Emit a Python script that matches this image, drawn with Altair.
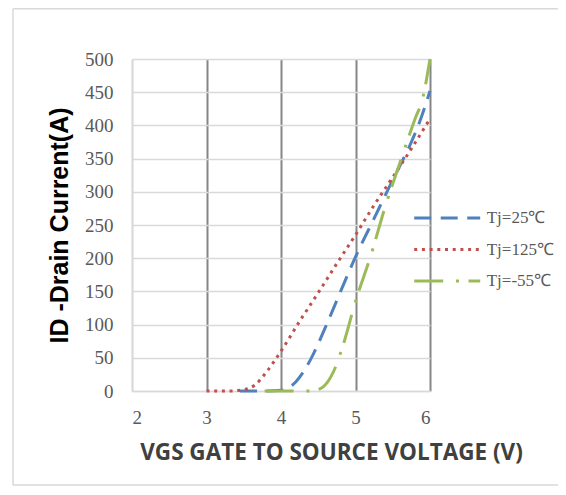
import altair as alt
import pandas as pd

series_names = ["Tj=25℃", "Tj=125℃", "Tj=-55℃"]
series_colors = ["#4f81bd", "#c0504d", "#9bbb59"]
series_dash = [[17, 9.5], [3, 4.7], [29, 12.8, 3, 9.5]]

vgs_25 = [3.45, 3.8, 4.0, 4.2, 4.4, 4.6, 4.8, 5.0, 5.25, 5.5, 5.75, 5.87, 6.0]
id_25 = [0, 0, 1, 14, 48, 97, 150, 202, 260, 318, 375, 408, 452]

vgs_125 = [3.0, 3.3, 3.5, 3.65, 3.8, 4.0, 4.25, 4.5, 4.75, 5.0, 5.25, 5.5, 5.75, 6.0]
id_125 = [0, 0, 2, 9, 28, 60, 105, 148, 192, 235, 280, 322, 365, 410]

vgs_m55 = [3.78, 4.4, 4.55, 4.7, 4.85, 5.0, 5.2, 5.4, 5.6, 5.8, 5.9, 6.0]
id_m55 = [0, 0, 5, 28, 75, 135, 202, 278, 345, 410, 440, 500]

x_ticks = [2, 3, 4, 5, 6]
y_ticks = list(range(0, 501, 50))

rows = []
for name, xs, ys in [(series_names[0], vgs_25, id_25),
                     (series_names[1], vgs_125, id_125),
                     (series_names[2], vgs_m55, id_m55)]:
    for i, (a, b) in enumerate(zip(xs, ys)):
        rows.append({"series": name, "vgs": a, "id": b, "order": i})
df = pd.DataFrame(rows)

W, H = 298, 332

x_scale = alt.Scale(domain=[2, 6], nice=False, zero=False)
y_scale = alt.Scale(domain=[0, 500], nice=False)

x_axis = alt.Axis(values=x_ticks, format="d", title="VGS GATE TO SOURCE VOLTAGE (V)",
                  grid=True,
                  gridColor=alt.condition("datum.value == 2", alt.value("#d9d9d9"), alt.value("#868686")),
                  gridWidth=2,
                  ticks=False, domainColor="#d9d9d9", domainWidth=1.5,
                  labelPadding=17, labelFont="Liberation Serif", labelFontSize=19,
                  labelColor="#595959",
                  titleFont="Open Sans", titleFontSize=22.5, titleFontWeight="bold",
                  titleColor="#404040", titleX=199, titleY=68,
                  titleAlign="center", titleBaseline="alphabetic")

y_axis = alt.Axis(values=y_ticks, format="d", title="ID -Drain Current(A)",
                  grid=True, gridColor="#d9d9d9", gridWidth=1.5,
                  ticks=False, domainColor="#d9d9d9", domainWidth=1.5,
                  labelPadding=19, labelFont="Liberation Serif", labelFontSize=19,
                  labelColor="#595959",
                  titleFont="Liberation Sans", titleFontSize=25, titleFontWeight="bold",
                  titleColor="#000000", titleAngle=270, titleX=-73, titleY=166,
                  titleAlign="center", titleBaseline="middle")

lines = alt.Chart(df).mark_line(strokeWidth=3, interpolate="monotone", clip=False).encode(
    x=alt.X("vgs:Q", scale=x_scale, axis=x_axis),
    y=alt.Y("id:Q", scale=y_scale, axis=y_axis),
    color=alt.Color("series:N",
                    scale=alt.Scale(domain=series_names, range=series_colors),
                    legend=alt.Legend(orient="none", legendX=280.7, legendY=149, title=None,
                                      symbolType="stroke", symbolSize=4356,
                                      symbolStrokeWidth=3, clipHeight=20, rowPadding=11.5,
                                      labelOffset=5, labelFont="Liberation Serif",
                                      labelFontSize=17, labelColor="#595959", labelLimit=0)),
    strokeDash=alt.StrokeDash("series:N",
                              scale=alt.Scale(domain=series_names, range=series_dash),
                              legend=None),
    order="order:Q",
)

frame = pd.DataFrame({"k": [0]})
left_edge = alt.Chart(frame).mark_rule(color="#d9d9d9", strokeWidth=1.5).encode(
    x=alt.value(-119), y=alt.value(-50.2), y2=alt.value(426)
)
top_edge = alt.Chart(frame).mark_rule(color="#d9d9d9", strokeWidth=1.5).encode(
    x=alt.value(-119), x2=alt.value(430), y=alt.value(-50.2)
)
bottom_edge = alt.Chart(frame).mark_rule(color="#d9d9d9", strokeWidth=1.5).encode(
    x=alt.value(-119), x2=alt.value(430), y=alt.value(426)
)

chart = alt.layer(left_edge, top_edge, bottom_edge, lines).properties(
    width=W, height=H,
    autosize=alt.AutoSizeParams(type="none"),
    padding={"left": 124, "top": 51, "right": 128, "bottom": 95},
).configure_view(stroke=None).configure_axis(
    labelFont="Liberation Serif", labelFontSize=19, labelColor="#595959"
)

chart.save("out.html", embed_options={"renderer": "svg", "actions": False})
